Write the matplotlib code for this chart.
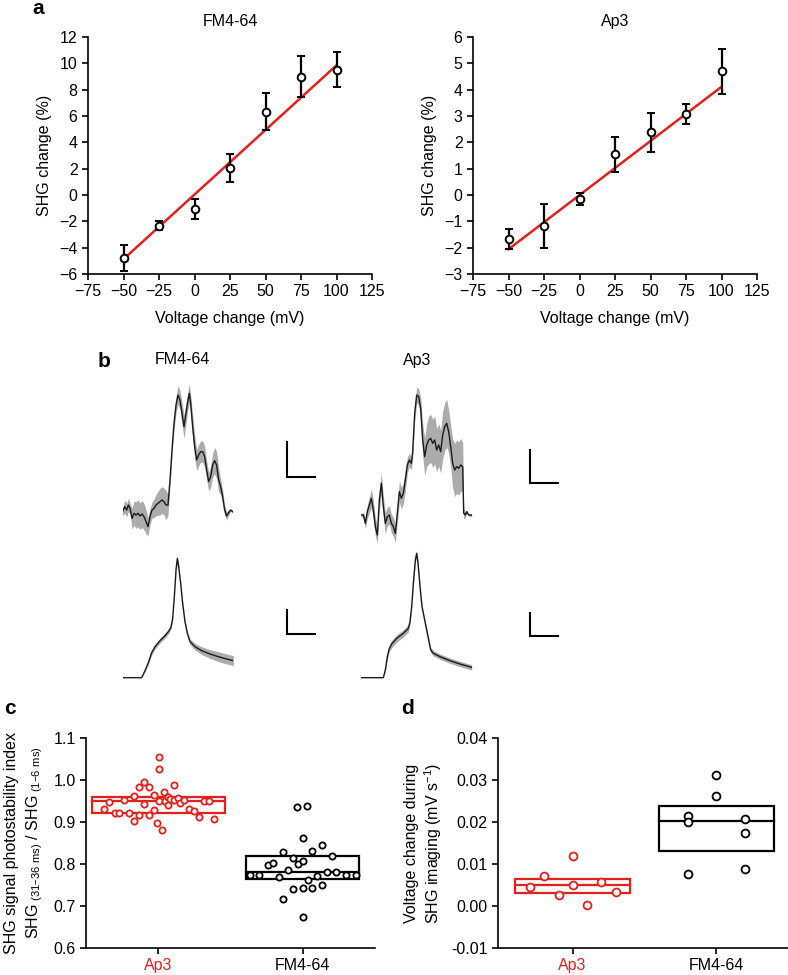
import numpy as np
import matplotlib
matplotlib.use('Agg')
import matplotlib.pyplot as plt
from matplotlib.patches import Rectangle

plt.rcParams['font.family'] = ['Liberation Sans', 'DejaVu Sans']
plt.rcParams['mathtext.default'] = 'regular'
plt.rcParams['axes.linewidth'] = 1.2
plt.rcParams['xtick.major.width'] = 1.2
plt.rcParams['ytick.major.width'] = 1.2
plt.rcParams['xtick.major.size'] = 4
plt.rcParams['ytick.major.size'] = 4
plt.rcParams['font.size'] = 11.5

RED = '#e3201b'
GREY = '#acacac'
FS = 11.5

# ---- panel a: SHG change vs voltage step ----
volt = [-50, -25, 0, 25, 50, 75, 100]
fm_shg = [-4.79, -2.32, -1.06, 2.03, 6.32, 9.0, 9.53]
fm_err = [1.0, 0.35, 0.76, 1.05, 1.42, 1.57, 1.33]
fm_fit = [-4.87, 9.85]          # regression line at -50 and 100 mV
ap_shg = [-1.68, -1.17, -0.15, 1.54, 2.38, 3.06, 4.69]
ap_err = [0.38, 0.84, 0.22, 0.67, 0.75, 0.38, 0.86]
ap_fit = [-2.06, 4.11]
fit_volt = [-50, 100]

# ---- panel b: averaged traces (time in ms, amplitude in a.u., band = s.e.m.) ----
fm_sig_t = [0, 0.6, 1.2, 1.7, 2.2, 2.8, 3.4, 4.0, 4.6, 5.2, 5.8, 6.4, 7.0, 7.6, 8.2,
            8.8, 9.4, 10.0, 10.6, 11.2, 11.8, 12.4, 13.0, 13.6, 14.2, 14.8, 15.4, 16.0,
            16.6, 17.2, 17.8, 18.4, 19.0, 19.6, 20.0, 20.4, 21.0, 21.6, 22.2, 22.8, 23.4,
            24.0, 24.6, 25.2, 25.8, 26.4, 27.0, 27.6, 28.2, 28.8, 29.4, 30.0, 30.6, 31.2,
            31.8, 32.4, 33.0]
fm_sig = [0, 1.5, 0.5, 2.0, 1.0, -2.0, -0.5, -1.0, -0.5, -1.3, -0.7, -1.5, -3.0, -4.5,
          -1.5, 0.5, 1.0, 2.0, 2.5, 3.0, 3.5, 3.0, 2.0, 2.0, 9.5, 18.5, 26.5, 32.0, 35.0,
          33.5, 29.5, 25.5, 29.5, 33.5, 35.5, 32.5, 25.5, 19.5, 15.5, 17.0, 18.0, 18.0,
          16.5, 12.5, 9.0, 10.5, 14.0, 15.3, 14.0, 9.5, 7.5, 4.5, 0.5, -1.3, -0.3, 0.5, 0]
fm_sig_sem = [1.2, 2.0, 2.0, 2.0, 1.6, 3.2, 3.6, 4.0, 4.0, 4.0, 4.0, 4.0, 3.6, 2.8, 2.4,
              2.4, 2.8, 3.2, 3.6, 4.0, 4.0, 4.0, 4.4, 3.2, 1.6, 1.6, 2.0, 2.4, 2.8, 2.8,
              3.2, 3.6, 3.2, 2.8, 2.8, 2.8, 3.2, 3.6, 3.2, 3.2, 3.2, 3.2, 3.2, 2.8, 2.8,
              3.2, 3.6, 4.0, 4.0, 3.6, 2.4, 2.0, 1.6, 1.2, 0.8, 0.4, 0.4]

ap_sig_t = [0, 0.7, 1.3, 1.9, 2.5, 3.1, 3.7, 4.3, 4.9, 5.5, 6.1, 6.7, 7.3, 7.9, 8.5,
            9.1, 9.7, 10.3, 10.9, 11.5, 12.1, 12.7, 13.3, 13.9, 14.5, 15.1, 15.5, 16.1,
            16.7, 17.3, 17.9, 18.5, 19.1, 19.7, 20.3, 20.9, 21.5, 22.1, 22.7, 23.3, 23.9,
            24.5, 25.1, 25.7, 26.3, 26.9, 27.5, 28.1, 28.7, 29.3, 29.9, 30.5, 30.8, 31.3,
            31.7, 32.3, 33.2]
ap_sig = [0, 0, -2.5, 1.0, 3.0, 5.0, 1.5, -3.5, -6.0, 4.5, 9.5, 2.5, -2.5, -0.5, 0,
          -2.5, -3.5, -5.5, 0.5, 7.0, 5.0, 6.5, 10.5, 15.0, 16.5, 15.5, 19.0, 30.5, 36.0,
          35.5, 32.0, 22.5, 17.5, 21.0, 22.5, 23.0, 21.5, 22.5, 19.5, 21.0, 19.0, 24.0,
          26.5, 27.5, 25.0, 20.5, 15.5, 13.5, 14.5, 14.0, 15.0, 14.5, 0.5, 0, 1.0, 0, 0]
ap_sig_sem = [0.4, 0.8, 1.6, 2.0, 2.4, 2.8, 2.8, 2.8, 2.4, 3.2, 3.2, 3.2, 3.2, 2.8, 2.8,
              2.8, 2.8, 2.8, 2.8, 3.2, 3.2, 3.2, 3.2, 2.4, 2.0, 2.0, 2.0, 2.4, 2.4, 2.4,
              3.2, 4.8, 5.6, 6.4, 7.2, 7.2, 7.2, 7.2, 6.4, 6.4, 6.4, 7.2, 7.2, 7.2, 6.4,
              6.4, 7.2, 8.0, 8.0, 8.0, 8.0, 7.2, 1.6, 0.8, 0.4, 0.4, 0.4]

fm_ap_t = [0, 2.2, 4.2, 5.7, 6.7, 7.7, 8.7, 9.7, 11.2, 12.7, 13.7, 14.5, 15.0, 15.5,
           16.0, 16.4, 16.8, 17.4, 18.0, 18.7, 19.4, 20.2, 21.7, 23.7, 26.2, 28.7, 31.2, 33.2]
fm_ap = [0, 0, 0, 0, 2.1, 4.5, 7.5, 9.3, 11.1, 12.6, 13.8, 15.1, 17.8, 24.3,
         32.3, 35.8, 33.3, 28.3, 22.3, 16.8, 13.3, 10.8, 9.3, 8.1, 7.1, 6.3, 5.6, 5.1]
fm_ap_sem = [0, 0, 0, 0, 0.3, 0.5, 0.6, 0.7, 0.7, 0.7, 0.7, 0.5, 0.4, 0.4,
             0.7, 0.9, 0.7, 0.4, 0.3, 0.4, 0.6, 0.8, 1.0, 1.2, 1.3, 1.5, 1.5, 1.5]

ap_ap_t = [0, 2.7, 4.7, 6.7, 7.3, 7.9, 8.5, 9.2, 10.7, 12.7, 14.2, 14.7, 15.2, 15.7,
           16.3, 16.7, 17.1, 17.7, 18.3, 18.9, 19.5, 20.3, 20.9, 21.7, 23.7, 26.7, 29.7, 33.2]
ap_ap = [0, 0, 0, 0, 2.3, 6.3, 8.8, 10.1, 11.8, 13.3, 14.8, 16.8, 21.3, 28.3,
         35.3, 37.3, 34.3, 27.3, 21.3, 18.3, 15.3, 11.3, 8.3, 7.3, 6.3, 5.1, 4.1, 3.1]
ap_ap_sem = [0, 0, 0, 0, 0.4, 0.8, 1.0, 1.1, 1.1, 1.1, 1.1, 0.8, 0.6, 0.6,
             0.7, 0.9, 0.7, 0.5, 0.4, 0.4, 0.4, 0.6, 0.7, 0.8, 0.8, 0.8, 0.8, 0.8]

# ---- panel c: photostability index ----
c_ap3_x = [-0.374, -0.342, -0.30, -0.27, -0.236, -0.203, -0.166, -0.166, -0.134, -0.134,
           -0.097, -0.097, -0.065, -0.065, -0.032, -0.032, -0.012, 0.005, 0.005, 0.005,
           0.023, 0.037, 0.046, 0.069, 0.069, 0.08, 0.106, 0.111, 0.139, 0.15, 0.18,
           0.212, 0.249, 0.28, 0.319, 0.351, 0.386]
c_ap3_y = [0.931, 0.948, 0.921, 0.921, 0.952, 0.921, 0.962, 0.903, 0.983, 0.916,
           0.996, 0.944, 0.983, 0.916, 0.964, 0.929, 0.897, 1.055, 1.026, 0.951,
           0.881, 0.972, 0.951, 0.960, 0.941, 0.955, 0.989, 0.952, 0.956, 0.945, 0.953,
           0.932, 0.927, 0.912, 0.951, 0.951, 0.906]
c_fm_x = [-0.365, -0.30, -0.238, -0.203, -0.164, -0.134, -0.134, -0.099, -0.065, -0.065,
          -0.037, -0.030, 0.0, 0.0, 0.0, 0.0, 0.030, 0.035, 0.067, 0.067, 0.099, 0.132,
          0.136, 0.166, 0.201, 0.231, 0.30, 0.367]
c_fm_y = [0.773, 0.773, 0.797, 0.802, 0.768, 0.828, 0.717, 0.785, 0.815, 0.741,
          0.936, 0.799, 0.862, 0.806, 0.743, 0.673, 0.939, 0.763, 0.830, 0.744, 0.771,
          0.749, 0.845, 0.782, 0.819, 0.782, 0.773, 0.773]
c_box_ap3 = [0.921, 0.949, 0.960]   # q1, median, q3
c_box_fm = [0.765, 0.781, 0.818]

# ---- panel d: voltage drift ----
d_ap3_x = [-0.30, -0.20, -0.098, 0.0, 0.0, 0.102, 0.20, 0.30]
d_ap3_y = [0.0046, 0.0071, 0.0027, 0.0120, 0.0051, 0.0003, 0.0058, 0.0033]
d_fm_x = [-0.198, -0.198, -0.198, 0.0, 0.0, 0.202, 0.202, 0.202]
d_fm_y = [0.0215, 0.0200, 0.0076, 0.0311, 0.0263, 0.0206, 0.0173, 0.0087]
d_box_ap3 = [0.0030, 0.0050, 0.0064]
d_box_fm = [0.0130, 0.0203, 0.0239]

groups = ['Ap3', 'FM4-64']
group_colors = [RED, 'black']

W, H = 788, 975
fig = plt.figure(figsize=(W / 100, H / 100), dpi=100)


def box(x0, y0, x1, y1):
    return [x0 / W, 1 - y1 / H, (x1 - x0) / W, (y1 - y0) / H]


def style_axes(ax):
    for s in ['top', 'right']:
        ax.spines[s].set_visible(False)
    ax.tick_params(direction='out', labelsize=FS)


def calib_panel(ax, mean, err, fit, ylim, ystep, title):
    ax.plot(fit_volt, fit, color=RED, lw=1.8, zorder=2)
    ax.errorbar(volt, mean, yerr=err, fmt='o', ms=5.5, mfc='white', mec='black', mew=1.4,
                ecolor='black', elinewidth=1.6, capsize=3, capthick=1.6, zorder=3)
    ax.set_xlim(-75, 125)
    ax.set_xticks(np.arange(-75, 126, 25))
    ax.set_ylim(*ylim)
    ax.set_yticks(np.arange(ylim[0], ylim[1] + 0.1, ystep))
    ax.set_xlabel('Voltage change (mV)', fontsize=FS, labelpad=8)
    ax.set_ylabel('SHG change (%)', fontsize=FS, labelpad=5)
    ax.set_title(title, fontsize=FS, pad=8)
    style_axes(ax)
    for sp in ax.spines.values():
        sp.set_clip_on(False)


ax1 = fig.add_axes(box(88, 37, 372, 274))
calib_panel(ax1, fm_shg, fm_err, fm_fit, (-6, 12), 2, 'FM4-64')
ax2 = fig.add_axes(box(473, 37, 757, 274))
calib_panel(ax2, ap_shg, ap_err, ap_fit, (-3, 6), 1, 'Ap3')


def trace(rect, t, y, sem, ylim, bar):
    ax = fig.add_axes(rect)
    t, y, sem = np.array(t), np.array(y), np.array(sem)
    ax.fill_between(t, y - sem, y + sem, color=GREY, lw=0)
    ax.plot(t, y, color='#1a1a1a', lw=1.0)
    ax.set_xlim(0, 33.2)
    ax.set_ylim(*ylim)
    ax.axis('off')
    # scale bar: (x0, y0, length in ms, height in a.u.)
    x0, y0, dx, dy = bar
    ax.plot([x0, x0, x0 + dx], [y0 + dy, y0, y0], color='black', lw=1.5,
            clip_on=False, solid_joinstyle='miter')
    return ax


trace(box(122.7, 375, 233.3, 540), fm_sig_t, fm_sig, fm_sig_sem, (-8.5, 41), (49.3, 10.4, 8.4, 10.5))
trace(box(361, 375, 471.7, 545), ap_sig_t, ap_sig, ap_sig_sem, (-9, 42), (50.7, 9.6, 8.4, 9.9))
trace(box(122.7, 545, 233.3, 685), fm_ap_t, fm_ap, fm_ap_sem, (-2.2, 39.8), (49.3, 13.1, 8.4, 7.2))
trace(box(361, 545, 471.7, 685), ap_ap_t, ap_ap, ap_ap_sem, (-2.2, 39.8), (50.7, 12.5, 8.4, 6.9))

fig.text(182 / W, 1 - 360 / H, 'FM4-64', ha='center', va='center', fontsize=FS)
fig.text(417 / W, 1 - 360 / H, 'Ap3', ha='center', va='center', fontsize=FS)


def group_panel(ax, xs, ys, boxes, half_widths, ms):
    for i, (gx, gy, bx, hw, col) in enumerate(zip(xs, ys, boxes, half_widths, group_colors)):
        q1, med, q3 = bx
        ax.add_patch(Rectangle((i - hw, q1), 2 * hw, q3 - q1, fill=False, ec=col, lw=1.6, zorder=2))
        ax.plot([i - hw, i + hw], [med, med], color=col, lw=1.6, zorder=2)
        ax.scatter(np.array(gx) + i, gy, s=ms, facecolors='white', edgecolors=col,
                   linewidths=1.3, zorder=3)
    ax.set_xlim(-0.5, 1.5)
    ax.set_xticks([0, 1])
    ax.set_xticklabels(groups)
    for lab, col in zip(ax.get_xticklabels(), group_colors):
        lab.set_color(col)
    style_axes(ax)
    for sp in ax.spines.values():
        sp.set_clip_on(False)


ax3 = fig.add_axes(box(86, 738, 375, 948))
group_panel(ax3, [c_ap3_x, c_fm_x], [c_ap3_y, c_fm_y], [c_box_ap3, c_box_fm], [0.46, 0.39], 20)
ax3.set_ylim(0.6, 1.1)
ax3.set_yticks(np.arange(0.6, 1.11, 0.1))
ax3.yaxis.set_major_formatter(plt.FormatStrFormatter('%.1f'))
ax3.set_ylabel('SHG signal photostability index\n'
               'SHG$_{\\ (31\u201336\\ ms)}$ / SHG$_{\\ (1\u20136\\ ms)}$',
               fontsize=FS, labelpad=6, linespacing=1.4)

ax4 = fig.add_axes(box(498, 738, 788, 948))
group_panel(ax4, [d_ap3_x, d_fm_x], [d_ap3_y, d_fm_y], [d_box_ap3, d_box_fm], [0.40, 0.40], 32)
ax4.set_xlim(-0.52, 1.5)
ax4.set_ylim(-0.01, 0.04)
ax4.set_yticks(np.arange(-0.01, 0.041, 0.01))
ax4.yaxis.set_major_formatter(plt.FormatStrFormatter('%.2f'))
ax4.set_ylabel('Voltage change during\nSHG imaging (mV s$^{-1}$)',
               fontsize=FS, labelpad=5, linespacing=1.2)

for letter, x, y in [('a', 38, 8), ('b', 104, 361), ('c', 10, 708), ('d', 408, 708)]:
    fig.text(x / W, 1 - y / H, letter, ha='center', va='center', fontsize=15, fontweight='bold')

fig.savefig('out.png', dpi=100)
